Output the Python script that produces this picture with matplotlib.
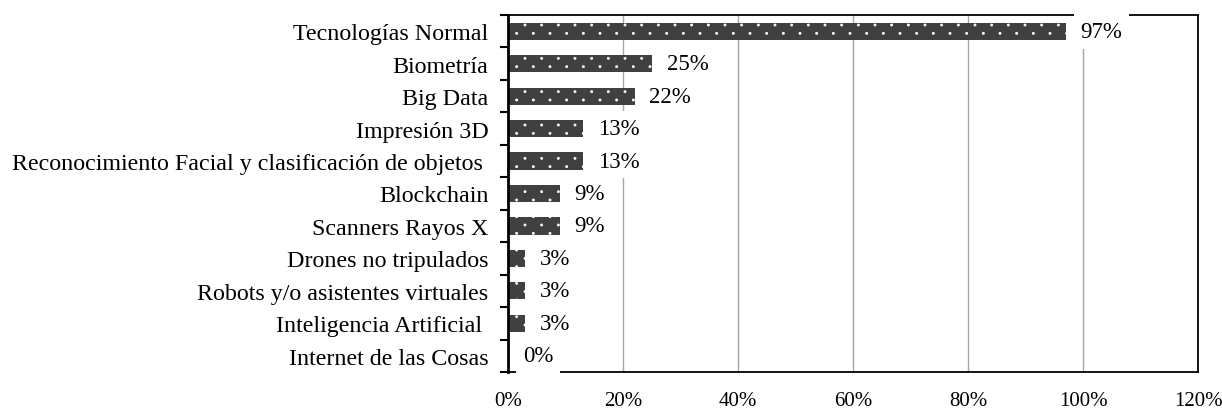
import matplotlib
matplotlib.use("Agg")
import matplotlib.pyplot as plt
import matplotlib.hatch as mhatch
from matplotlib.path import Path
import numpy as np

categories = ["Tecnologías Normal", "Biometría", "Big Data", "Impresión 3D",
              "Reconocimiento Facial y clasificación de objetos ", "Blockchain",
              "Scanners Rayos X", "Drones no tripulados", "Robots y/o asistentes virtuales",
              "Inteligencia Artificial ", "Internet de las Cosas"]
values = [97, 25, 22, 13, 13, 9, 9, 3, 3, 3, 0]
xticks = [0, 20, 40, 60, 80, 100, 120]
xticklabels = ["0%", "20%", "40%", "60%", "80%", "100%", "120%"]


# Custom staggered dot texture (replaces the '.' hatch)
class StaggerDots(mhatch.HatchPatternBase):
    ncols = 6
    nrows = 12
    size = 0.065

    def __init__(self, hatch, density):
        circ = Path.unit_circle()
        self.shape_vertices = circ.vertices
        self.shape_codes = circ.codes
        if hatch.count('.') > 0:
            n_even = self.nrows // 2 + 1
            n_odd = self.nrows // 2
            self.num_shapes = n_even * (self.ncols + 1) + n_odd * self.ncols
        else:
            self.num_shapes = 0
        self.num_vertices = self.num_shapes * len(self.shape_vertices)

    def set_vertices_and_codes(self, vertices, codes):
        cw = 1.0 / self.ncols
        rh = 1.0 / self.nrows
        sv = self.shape_vertices * cw * self.size
        vparts, cparts = [], []
        for row in range(self.nrows + 1):
            if row % 2 == 0:
                cols = np.linspace(0, 1, self.ncols + 1)
            else:
                cols = np.linspace(cw / 2, 1 - cw / 2, self.ncols)
            for c in cols:
                vparts.append(sv + [c, row * rh])
                cparts.append(self.shape_codes)
        np.concatenate(vparts, out=vertices)
        np.concatenate(cparts, out=codes)


mhatch._hatch_types = [StaggerDots if t is mhatch.SmallFilledCircles else t
                       for t in mhatch._hatch_types]

plt.rcParams['font.family'] = ['Liberation Serif', 'DejaVu Serif']
plt.rcParams['hatch.linewidth'] = 0.5

FS_CAT = 17.3
FS_VAL = 16.5
FS_TICK = 15
fig = plt.figure(figsize=(12.22, 4.10), dpi=100)
ax = fig.add_axes([508/1222, 1-373/410, (1198-508)/1222, (373-16)/410])

y = np.arange(len(categories))
ax.barh(y, values, height=0.53, color='#404040', edgecolor='white',
        linewidth=0, hatch='.', zorder=2)

ax.set_xlim(0, 120)
ax.set_ylim(len(categories)-0.5, -0.5)
ax.set_xticks(xticks)
ax.set_xticklabels(xticklabels, fontsize=FS_TICK)
ax.tick_params(axis='x', length=0, pad=13.5)
ax.set_yticks(y)
ax.set_yticklabels(categories, fontsize=FS_CAT)
ax.tick_params(axis='y', which='major', length=0, pad=14)
ax.set_yticks(np.arange(-0.5, len(categories)), minor=True)
ax.tick_params(axis='y', which='minor', length=6, width=1.5, direction='out')

ax.grid(axis='x', color='#a6a6a6', linewidth=1.0, zorder=0)
ax.set_axisbelow(True)

for s in ['top', 'right', 'bottom']:
    ax.spines[s].set_linewidth(1.3)
    ax.spines[s].set_color('black')
ax.spines['left'].set_linewidth(2)

for yi, v in zip(y, values):
    ax.text(v + 2.6, yi, f"{v}%", va='center', ha='left', fontsize=FS_VAL, zorder=10,
            bbox=dict(facecolor='white', edgecolor='none', pad=5.0))

fig.savefig("out.png", dpi=100)
